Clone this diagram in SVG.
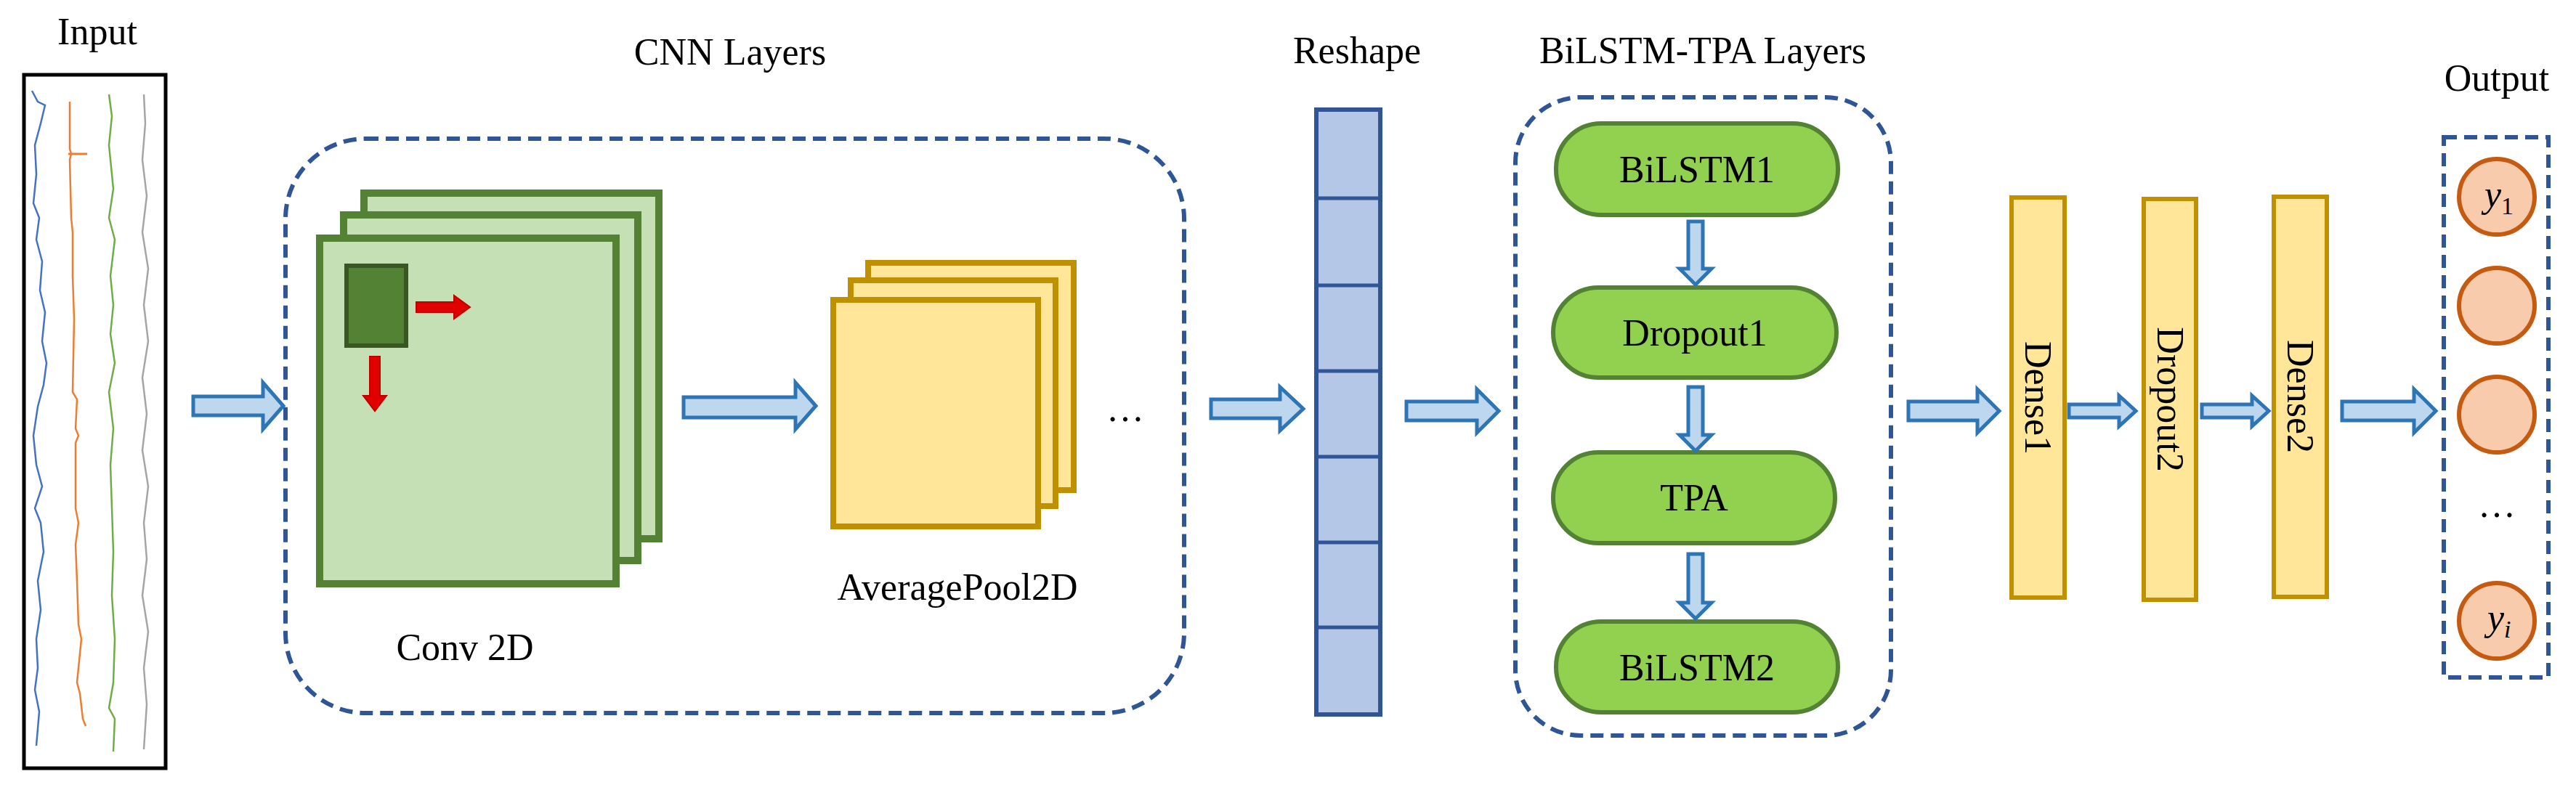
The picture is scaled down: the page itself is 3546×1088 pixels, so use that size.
<svg xmlns="http://www.w3.org/2000/svg" width="3546" height="1088" viewBox="0 0 3546 1088">
<style>
text{font-family:"Liberation Serif","Times New Roman",serif;font-size:52px;fill:#000}
.arr{fill:#BDD7EE;stroke:#2E75B6;stroke-width:5;stroke-linejoin:miter}
.dash{fill:none;stroke:#2F5597;stroke-width:6;stroke-dasharray:18 10}
.cv{fill:#C5E0B4;stroke:#548235;stroke-width:10}
.ap{fill:#FFE699;stroke:#BF9000;stroke-width:8}
.pill{fill:#92D050;stroke:#548235;stroke-width:6}
.dn{fill:#FFE699;stroke:#BF9000;stroke-width:6}
.cir{fill:#F8CBAD;stroke:#C55A11;stroke-width:6}
.sig{fill:none;stroke-width:2.5}
</style>
<g id="input">
<text x="134" y="61" text-anchor="middle">Input</text>
<rect x="33" y="103" width="195" height="955" fill="#fff" stroke="#000" stroke-width="5"/>
<polyline class="sig" stroke="#4472C4" points="44,125 52,140 62,145 56,170 48,200 50,240 46,280 54,300 50,330 58,360 55,400 62,430 58,470 64,500 60,530 52,560 46,600 50,640 58,670 48,700 56,720 60,760 52,800 56,840 50,880 52,920 48,950 54,980 50,1027"/>
<polyline class="sig" stroke="#ED7D31" points="96,140 96,205 98,212 96,220 98,300 100,320 100,380 102,440 100,540 106,550 104,590 108,600 104,610 104,700 108,720 104,750 106,800 108,860 112,880 106,940 110,955 114,990 118,1000"/>
<line x1="94" y1="212" x2="120" y2="212" stroke="#ED7D31" stroke-width="3"/>
<polyline class="sig" stroke="#70AD47" points="150,130 154,160 150,200 156,260 150,300 158,330 152,380 156,420 152,460 158,500 150,540 156,590 152,640 154,700 156,760 154,820 158,880 156,940 150,975 158,990 156,1035"/>
<polyline class="sig" stroke="#A5A5A5" points="198,130 200,170 196,220 202,270 196,320 204,370 198,420 204,470 196,520 202,570 196,620 204,670 198,720 202,770 196,820 204,870 198,920 202,970 198,1032"/>
</g>
<g id="cnn">
<text x="1005" y="89" text-anchor="middle">CNN  Layers</text>
<rect class="dash" x="393" y="191" width="1237" height="791" rx="110"/>
</g>
<g id="conv2d">
<rect class="cv" x="501" y="266" width="406" height="476"/>
<rect class="cv" x="473" y="296" width="405" height="476"/>
<rect class="cv" x="440" y="328" width="408" height="476"/>
<rect x="477" y="366" width="82" height="110" fill="#548235" stroke="#385723" stroke-width="6"/>
<path d="M573,416 L625,416 L625,407 L647,423 L625,439 L625,430 L573,430 Z" fill="#E00000" stroke="#C00000" stroke-width="2"/>
<path d="M509,491 L523,491 L523,545 L532,545 L516,566 L500,545 L509,545 Z" fill="#E00000" stroke="#C00000" stroke-width="2"/>
<text x="640" y="909" text-anchor="middle">Conv 2D</text>
</g>
<g id="avgpool">
<rect class="ap" x="1195" y="362" width="283" height="313"/>
<rect class="ap" x="1171" y="386" width="282" height="311"/>
<rect class="ap" x="1147" y="413" width="282" height="312"/>
<text x="1318" y="826" text-anchor="middle">AveragePool2D</text>
<text x="1549" y="580" text-anchor="middle">…</text>
</g>
<g id="reshape">
<text x="1868" y="87" text-anchor="middle">Reshape</text>
<rect x="1812" y="151" width="88" height="833" fill="#B4C7E7" stroke="#2F5597" stroke-width="6"/>
<g stroke="#2F5597" stroke-width="5">
<line x1="1812" y1="273" x2="1900" y2="273"/><line x1="1812" y1="393" x2="1900" y2="393"/>
<line x1="1812" y1="511" x2="1900" y2="511"/><line x1="1812" y1="629" x2="1900" y2="629"/>
<line x1="1812" y1="747" x2="1900" y2="747"/><line x1="1812" y1="864" x2="1900" y2="864"/>
</g>
</g>
<g id="bilstm-tpa">
<text x="2344" y="87" text-anchor="middle">BiLSTM-TPA Layers</text>
<rect class="dash" x="2086" y="134" width="517" height="879" rx="90"/>
</g>
<g id="bilstm1"><rect class="pill" x="2142" y="170" width="388" height="126" rx="62"/><text x="2336" y="251" text-anchor="middle">BiLSTM1</text></g>
<g id="dropout1"><rect class="pill" x="2138" y="396" width="390" height="124" rx="62"/><text x="2333" y="476" text-anchor="middle">Dropout1</text></g>
<g id="tpa"><rect class="pill" x="2138" y="623" width="388" height="125" rx="62"/><text x="2332" y="703" text-anchor="middle">TPA</text></g>
<g id="bilstm2"><rect class="pill" x="2142" y="856" width="388" height="125" rx="62"/><text x="2336" y="937" text-anchor="middle">BiLSTM2</text></g>
<g id="dense1"><rect class="dn" x="2769" y="272" width="73" height="551"/><text transform="translate(2788,548) rotate(90)" text-anchor="middle">Dense1</text></g>
<g id="dropout2"><rect class="dn" x="2951" y="274" width="72" height="552"/><text transform="translate(2970,550) rotate(90)" text-anchor="middle">Dropout2</text></g>
<g id="dense2"><rect class="dn" x="3130" y="271" width="73" height="551"/><text transform="translate(3149,546) rotate(90)" text-anchor="middle">Dense2</text></g>
<g id="output">
<text x="3437" y="125" text-anchor="middle">Output</text>
<rect class="dash" x="3364" y="189" width="144" height="744"/>
<circle class="cir" cx="3437" cy="271" r="52"/>
<circle class="cir" cx="3437" cy="421" r="52"/>
<circle class="cir" cx="3437" cy="571" r="52"/>
<circle class="cir" cx="3437" cy="855" r="52"/>
<text x="3420" y="285" font-style="italic">y<tspan font-size="34" font-style="normal" dy="10">1</tspan></text>
<text x="3424" y="868" font-style="italic">y<tspan font-size="34" dy="10">i</tspan></text>
<text x="3437" y="712" text-anchor="middle">…</text>
</g>
<g id="connectors">
<path class="arr" d="M266,546 L362,546 L362,527 L390,559 L362,591 L362,572 L266,572 Z"/>
<path class="arr" d="M941,547 L1095,547 L1095,527 L1123,559 L1095,591 L1095,575 L941,575 Z"/>
<path class="arr" d="M1667,550 L1762,550 L1762,533 L1794,563 L1762,593 L1762,576 L1667,576 Z"/>
<path class="arr" d="M1936,553 L2033,553 L2033,536 L2063,566 L2033,596 L2033,579 L1936,579 Z"/>
<path class="arr" d="M2627,553 L2722,553 L2722,536 L2752,566 L2722,596 L2722,579 L2627,579 Z"/>
<path class="arr" d="M2848,557 L2917,557 L2917,545 L2940,566 L2917,587 L2917,575 L2848,575 Z"/>
<path class="arr" d="M3031,557 L3100,557 L3100,545 L3123,566 L3100,587 L3100,575 L3031,575 Z"/>
<path class="arr" d="M3224,553 L3323,553 L3323,536 L3353,566 L3323,596 L3323,579 L3224,579 Z"/>
<path class="arr" d="M2324,305 L2344,305 L2344,370 L2356,370 L2334,392 L2312,370 L2324,370 Z"/>
<path class="arr" d="M2324,533 L2344,533 L2344,599 L2356,599 L2334,621 L2312,599 L2324,599 Z"/>
<path class="arr" d="M2324,763 L2344,763 L2344,830 L2356,830 L2334,852 L2312,830 L2324,830 Z"/>
</g>
</svg>
